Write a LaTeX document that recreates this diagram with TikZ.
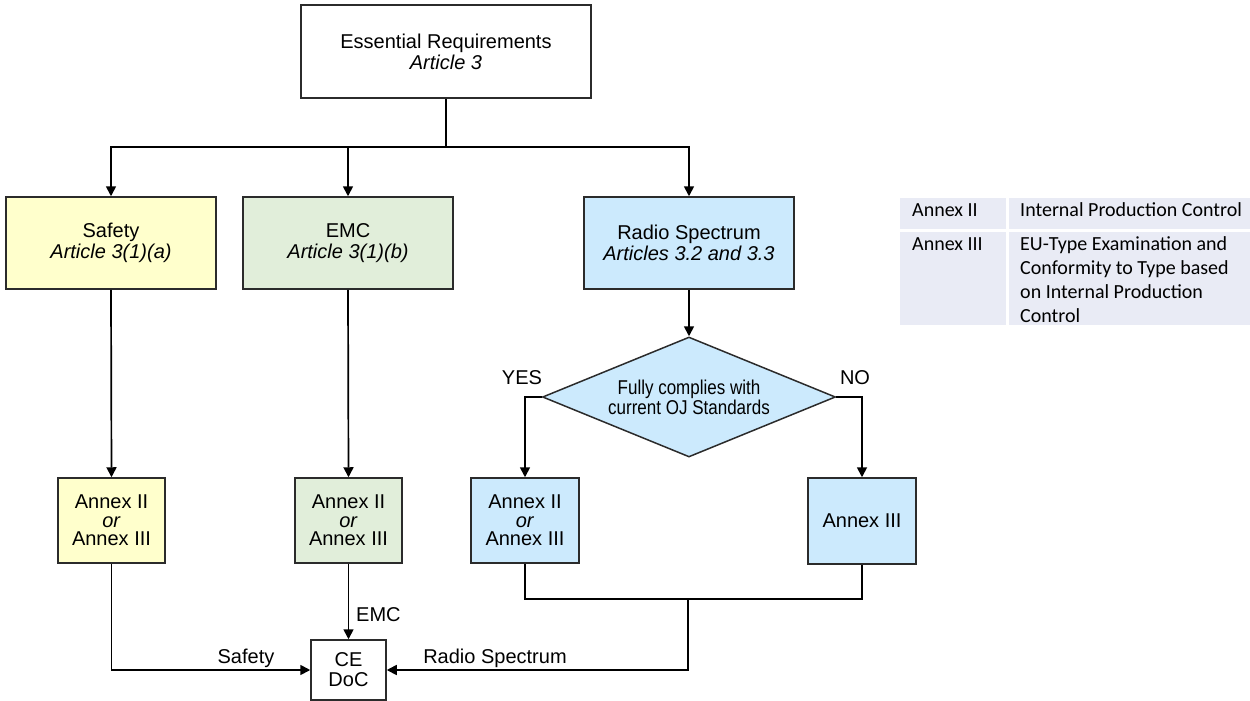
\documentclass[tikz,border=0pt]{standalone}
\usepackage{fontspec}
\setmainfont{Liberation Sans}
\newfontfamily\narrowfont{Liberation Sans}[FakeStretch=0.85]
\newfontfamily\calibfont{Carlito}
\usetikzlibrary{shapes.geometric,arrows.meta}
\definecolor{yel}{HTML}{FFFFCC}
\definecolor{grn}{HTML}{E1EEDA}
\definecolor{blu}{HTML}{CCEAFD}
\definecolor{tblc}{HTML}{E9EBF5}
\definecolor{bord}{HTML}{2B2B2B}
\tikzset{
  box/.style={draw=bord, line width=1.5pt, rectangle, inner sep=0pt, align=center,
    font=\fontsize{20}{21}\selectfont},
  annexbox/.style={box, minimum width=107pt, minimum height=85pt, font=\fontsize{20}{18.5}\selectfont},
  bigbox/.style={box, minimum width=210pt, minimum height=92pt},
  arr/.style={line width=1.7pt, -{Triangle[length=10pt,width=10pt]}},
  conn/.style={line width=1.7pt},
  lbl/.style={font=\fontsize{20}{21}\selectfont, inner sep=0pt},
  tbltext/.style={font=\calibfont\fontsize{20}{24}\selectfont, inner sep=0pt, anchor=base west},
}
\begin{document}
\begin{tikzpicture}[x=1pt,y=-1pt]
\useasboundingbox (0,0) rectangle (1250,701);
% top
\node[box, minimum width=290pt, minimum height=93pt] (top) at (446,51.5)
  {Essential Requirements\\\textit{Article 3}};
\node[bigbox, fill=yel] (safety) at (111,243) {Safety\\\textit{Article 3(1)(a)}};
\node[bigbox, fill=grn] (emc) at (348,243) {EMC\\\textit{Article 3(1)(b)}};
\node[bigbox, fill=blu] (radio) at (689,243) {Radio Spectrum\\\textit{Articles 3.2 and 3.3}};
\node[diamond, draw=bord, line width=1.5pt, fill=blu, inner sep=0pt, aspect=2.44,
  minimum width=293pt, minimum height=120pt, align=center,
  font=\narrowfont\fontsize{20}{20}\selectfont] (dec) at (689,397)
  {Fully complies with\\current OJ Standards};
\node[annexbox, fill=yel] (sa) at (111.5,520.5) {Annex II\\\textit{or}\\Annex III};
\node[annexbox, fill=grn] (ea) at (348.5,520.5) {Annex II\\\textit{or}\\Annex III};
\node[annexbox, fill=blu, minimum width=108pt] (ra) at (525,520.5) {Annex II\\\textit{or}\\Annex III};
\node[annexbox, fill=blu, minimum width=108pt, minimum height=86pt] (rb) at (862,521) {Annex III};
\node[box, minimum width=75pt, minimum height=60pt, font=\fontsize{20}{20}\selectfont] (ce) at (348.5,670) {CE\\DoC};
% connectors
\coordinate (split) at (446,147);
\draw[conn] (top.south) -- (split);
\draw[arr] (split) -| (safety.north);
\draw[arr] (split) -| (emc.north);
\draw[arr] (split) -| (radio.north);
\draw[arr] (radio.south) -- (dec.north);
\draw[arr] (dec.west) -| (ra.north);
\draw[arr] (dec.east) -| (rb.north);
\draw[arr] (safety.south) -- (sa.north);
\draw[arr] (emc.south) -- (ea.north);
\draw[arr] (sa.south) |- (ce.west);
\draw[arr] (ea.south) -- (ce.north);
\coordinate (join) at (688,599);
\draw[conn] (ra.south) |- (join) -| (rb.south);
\draw[arr] (join) |- (ce.east);
% labels
\node[lbl] (yes) at (522,378) {YES};
\node[lbl] (no) at (855,378) {NO};
\node[lbl, anchor=west] (lemc) at (356,615) {EMC};
\node[lbl] (lsafety) at (246,658) {Safety};
\node[lbl] (lradio) at (495,658) {Radio Spectrum};
% table
\fill[tblc] (900,198) rectangle (1006,229);
\fill[tblc] (1009,198) rectangle (1250,229);
\fill[tblc] (900,232) rectangle (1006,325);
\fill[tblc] (1009,232) rectangle (1250,325);
\node[tbltext] (t1a) at (912,216) {Annex II};
\node[tbltext] (t1b) at (1020,216) {Internal Production Control};
\node[tbltext] (t2a) at (912,250) {Annex III};
\node[tbltext] (t2b) at (1020,250) {EU-Type Examination and};
\node[tbltext] (t2c) at (1020,274) {Conformity to Type based};
\node[tbltext] (t2d) at (1020,298) {on Internal Production};
\node[tbltext] (t2e) at (1020,322) {Control};
\end{tikzpicture}
\end{document}
